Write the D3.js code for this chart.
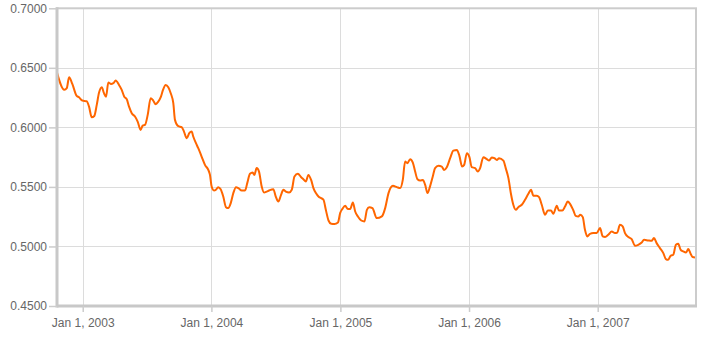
<!DOCTYPE html>
<html>
<head>
<meta charset="utf-8">
<script src="https://cdn.jsdelivr.net/npm/d3@7"></script>
<style>
  html, body { margin: 0; padding: 0; background: #fff; }
  svg { display: block; }
  text { font-family: Arial, "Liberation Sans", sans-serif; }
</style>
</head>
<body>
<svg id="chart" width="710" height="337"></svg>
<script>
// Time of each reading, as a decimal year
const times = [
  2002.800, 2002.857, 2002.876, 2002.894, 2002.919, 2002.953, 2002.971, 2002.997,
  2003.031, 2003.049, 2003.070, 2003.090, 2003.109, 2003.127, 2003.148, 2003.165,
  2003.181, 2003.199, 2003.220, 2003.238, 2003.256, 2003.282, 2003.303, 2003.323,
  2003.342, 2003.360, 2003.381, 2003.406, 2003.427, 2003.450, 2003.466, 2003.484,
  2003.505, 2003.528, 2003.548, 2003.567, 2003.587, 2003.608, 2003.624, 2003.645,
  2003.665, 2003.684, 2003.704, 2003.717, 2003.743, 2003.769, 2003.787, 2003.808,
  2003.828, 2003.847, 2003.859, 2003.880, 2003.898, 2003.924, 2003.950, 2003.976,
  2003.989, 2004.002, 2004.020, 2004.035, 2004.053, 2004.072, 2004.092, 2004.113,
  2004.131, 2004.150, 2004.170, 2004.191, 2004.209, 2004.235, 2004.261, 2004.278,
  2004.299, 2004.320, 2004.333, 2004.351, 2004.369, 2004.390, 2004.408, 2004.429,
  2004.447, 2004.480, 2004.499, 2004.519, 2004.540, 2004.558, 2004.577, 2004.602,
  2004.623, 2004.644, 2004.670, 2004.696, 2004.713, 2004.732, 2004.752, 2004.773,
  2004.791, 2004.810, 2004.830, 2004.851, 2004.869, 2004.887, 2004.908, 2004.929,
  2004.954, 2004.981, 2004.998, 2005.016, 2005.037, 2005.058, 2005.076, 2005.097,
  2005.115, 2005.136, 2005.162, 2005.187, 2005.206, 2005.224, 2005.249, 2005.283,
  2005.322, 2005.348, 2005.374, 2005.408, 2005.439, 2005.464, 2005.485, 2005.503,
  2005.521, 2005.542, 2005.563, 2005.581, 2005.599, 2005.620, 2005.641, 2005.659,
  2005.677, 2005.698, 2005.718, 2005.736, 2005.762, 2005.788, 2005.806, 2005.827,
  2005.853, 2005.878, 2005.905, 2005.925, 2005.946, 2005.962, 2005.983, 2006.003,
  2006.021, 2006.047, 2006.068, 2006.086, 2006.111, 2006.138, 2006.156, 2006.177,
  2006.197, 2006.216, 2006.233, 2006.267, 2006.285, 2006.306, 2006.327, 2006.344,
  2006.363, 2006.383, 2006.410, 2006.435, 2006.461, 2006.482, 2006.500, 2006.526,
  2006.544, 2006.565, 2006.591, 2006.612, 2006.637, 2006.655, 2006.682, 2006.699,
  2006.725, 2006.746, 2006.767, 2006.785, 2006.811, 2006.829, 2006.849, 2006.865,
  2006.884, 2006.901, 2006.919, 2006.940, 2006.966, 2006.992, 2007.018, 2007.039,
  2007.057, 2007.082, 2007.109, 2007.134, 2007.152, 2007.173, 2007.194, 2007.212,
  2007.238, 2007.264, 2007.290, 2007.315, 2007.342, 2007.360, 2007.393, 2007.419,
  2007.437, 2007.458, 2007.484, 2007.510, 2007.530, 2007.548, 2007.567, 2007.587,
  2007.608, 2007.626, 2007.645, 2007.665, 2007.686, 2007.704, 2007.722, 2007.738,
  2007.756
];

// Series values
const values = [
  0.6460, 0.6315, 0.6329, 0.6421, 0.6365, 0.6264, 0.6253, 0.6225,
  0.6220, 0.6174, 0.6085, 0.6096, 0.6189, 0.6292, 0.6337, 0.6287,
  0.6258, 0.6376, 0.6365, 0.6371, 0.6393, 0.6356, 0.6315, 0.6258,
  0.6237, 0.6174, 0.6119, 0.6091, 0.6049, 0.5979, 0.6015, 0.6021,
  0.6105, 0.6245, 0.6225, 0.6195, 0.6216, 0.6258, 0.6315, 0.6356,
  0.6337, 0.6287, 0.6203, 0.6063, 0.6010, 0.6002, 0.5965, 0.5909,
  0.5951, 0.5965, 0.5923, 0.5867, 0.5825, 0.5755, 0.5685, 0.5643,
  0.5601, 0.5503, 0.5470, 0.5476, 0.5498, 0.5481, 0.5419, 0.5330,
  0.5322, 0.5364, 0.5448, 0.5498, 0.5490, 0.5470, 0.5470, 0.5532,
  0.5610, 0.5621, 0.5601, 0.5658, 0.5629, 0.5503, 0.5453, 0.5461,
  0.5470, 0.5481, 0.5419, 0.5377, 0.5434, 0.5476, 0.5461, 0.5453,
  0.5476, 0.5587, 0.5610, 0.5582, 0.5565, 0.5545, 0.5601, 0.5559,
  0.5490, 0.5448, 0.5419, 0.5406, 0.5392, 0.5308, 0.5218, 0.5190,
  0.5188, 0.5201, 0.5280, 0.5316, 0.5341, 0.5314, 0.5314, 0.5369,
  0.5294, 0.5252, 0.5218, 0.5210, 0.5308, 0.5330, 0.5322, 0.5238,
  0.5252, 0.5322, 0.5448, 0.5509, 0.5498, 0.5490, 0.5559, 0.5713,
  0.5699, 0.5733, 0.5705, 0.5629, 0.5565, 0.5554, 0.5559, 0.5517,
  0.5448, 0.5509, 0.5587, 0.5658, 0.5677, 0.5671, 0.5643, 0.5666,
  0.5741, 0.5805, 0.5811, 0.5761, 0.5671, 0.5685, 0.5783, 0.5750,
  0.5666, 0.5658, 0.5629, 0.5658, 0.5750, 0.5733, 0.5721, 0.5747,
  0.5741, 0.5727, 0.5741, 0.5721, 0.5658, 0.5574, 0.5434, 0.5350,
  0.5308, 0.5330, 0.5350, 0.5392, 0.5442, 0.5476, 0.5425, 0.5425,
  0.5414, 0.5350, 0.5266, 0.5302, 0.5302, 0.5274, 0.5341, 0.5302,
  0.5302, 0.5335, 0.5377, 0.5358, 0.5302, 0.5257, 0.5252, 0.5266,
  0.5246, 0.5140, 0.5084, 0.5106, 0.5112, 0.5112, 0.5154, 0.5084,
  0.5079, 0.5098, 0.5126, 0.5112, 0.5117, 0.5182, 0.5168, 0.5112,
  0.5079, 0.5062, 0.5006, 0.5014, 0.5033, 0.5056, 0.5050, 0.5047,
  0.5070, 0.5028, 0.4986, 0.4944, 0.4894, 0.4888, 0.4922, 0.4930,
  0.5014, 0.5022, 0.4972, 0.4958, 0.4949, 0.4978, 0.4939, 0.4911,
  0.4908
];

// Axis ranges and tick labels
const timeDomain = [2002.800, 2007.764];
const valueDomain = [0.45, 0.70];
const yTickValues = [0.45, 0.50, 0.55, 0.60, 0.65, 0.70];
const xTickYears = [2003, 2004, 2005, 2006, 2007];

function yearToDate(y) {
  const yr = Math.floor(y);
  const a = Date.UTC(yr, 0, 1), b = Date.UTC(yr + 1, 0, 1);
  return new Date(a + (y - yr) * (b - a));
}

const data = times.map((t, i) => ({ date: yearToDate(t), value: values[i] }));

const margin = { left: 57, right: 696, top: 8.3, bottom: 306 };
const svg = d3.select("#chart");

const x = d3.scaleUtc()
  .domain(timeDomain.map(yearToDate))
  .range([margin.left, margin.right]);
const y = d3.scaleLinear()
  .domain(valueDomain)
  .range([margin.bottom, margin.top]);

const xTicks = xTickYears.map(yr => new Date(Date.UTC(yr, 0, 1)));

// Gridlines
const grid = svg.append("g");
grid.selectAll("line.h")
  .data(yTickValues.filter(v => v > 0.451 && v < 0.699))
  .join("line")
  .attr("x1", margin.left).attr("x2", margin.right)
  .attr("y1", d => Math.round(y(d)) + 0.5).attr("y2", d => Math.round(y(d)) + 0.5)
  .attr("stroke", "#dcdcdc").attr("stroke-width", 1);
grid.selectAll("line.v")
  .data(xTicks)
  .join("line")
  .attr("x1", d => Math.round(x(d)) + 0.5).attr("x2", d => Math.round(x(d)) + 0.5)
  .attr("y1", margin.top).attr("y2", margin.bottom)
  .attr("stroke", "#dcdcdc").attr("stroke-width", 1);

// Frame
svg.append("rect")
  .attr("x", margin.left).attr("y", margin.top)
  .attr("width", margin.right - margin.left)
  .attr("height", margin.bottom - margin.top)
  .attr("fill", "none").attr("stroke", "#cccccc").attr("stroke-width", 2);

// Line
const line = d3.line()
  .x(d => x(d.date))
  .y(d => y(d.value))
  .curve(d3.curveMonotoneX);

svg.append("path")
  .datum(data)
  .attr("d", line)
  .attr("fill", "none")
  .attr("stroke", "#ff6600")
  .attr("stroke-width", 2)
  .attr("stroke-linejoin", "round");

// Left & bottom axis lines (thicker)
svg.append("line")
  .attr("x1", margin.left).attr("x2", margin.left)
  .attr("y1", margin.top - 1).attr("y2", margin.bottom + 1.5)
  .attr("stroke", "#c8c8c8").attr("stroke-width", 3);
svg.append("line")
  .attr("x1", margin.left).attr("x2", margin.right + 1)
  .attr("y1", margin.bottom).attr("y2", margin.bottom)
  .attr("stroke", "#c8c8c8").attr("stroke-width", 3);

// Y axis
const yAxis = d3.axisLeft(y)
  .tickValues(yTickValues)
  .tickFormat(d3.format(".4f"))
  .tickSize(8)
  .tickPadding(2);
const gy = svg.append("g")
  .attr("transform", `translate(${margin.left},0)`)
  .call(yAxis);
gy.select(".domain").remove();
gy.selectAll(".tick line").attr("stroke", "#cccccc").attr("stroke-width", 1.5);
gy.selectAll(".tick text")
  .attr("fill", "#666666")
  .style("font-size", "12px")
  .style("font-family", "Arial, 'Liberation Sans', sans-serif");

// X axis
const xAxis = d3.axisBottom(x)
  .tickValues(xTicks)
  .tickFormat(d3.utcFormat("%b %-d, %Y"))
  .tickSize(6)
  .tickPadding(6);
const gx = svg.append("g")
  .attr("transform", `translate(0,${margin.bottom})`)
  .call(xAxis);
gx.select(".domain").remove();
gx.selectAll(".tick line").attr("stroke", "#cccccc").attr("stroke-width", 1.5);
gx.selectAll(".tick text")
  .attr("fill", "#666666")
  .style("font-size", "12px")
  .style("font-family", "Arial, 'Liberation Sans', sans-serif");
</script>
</body>
</html>
